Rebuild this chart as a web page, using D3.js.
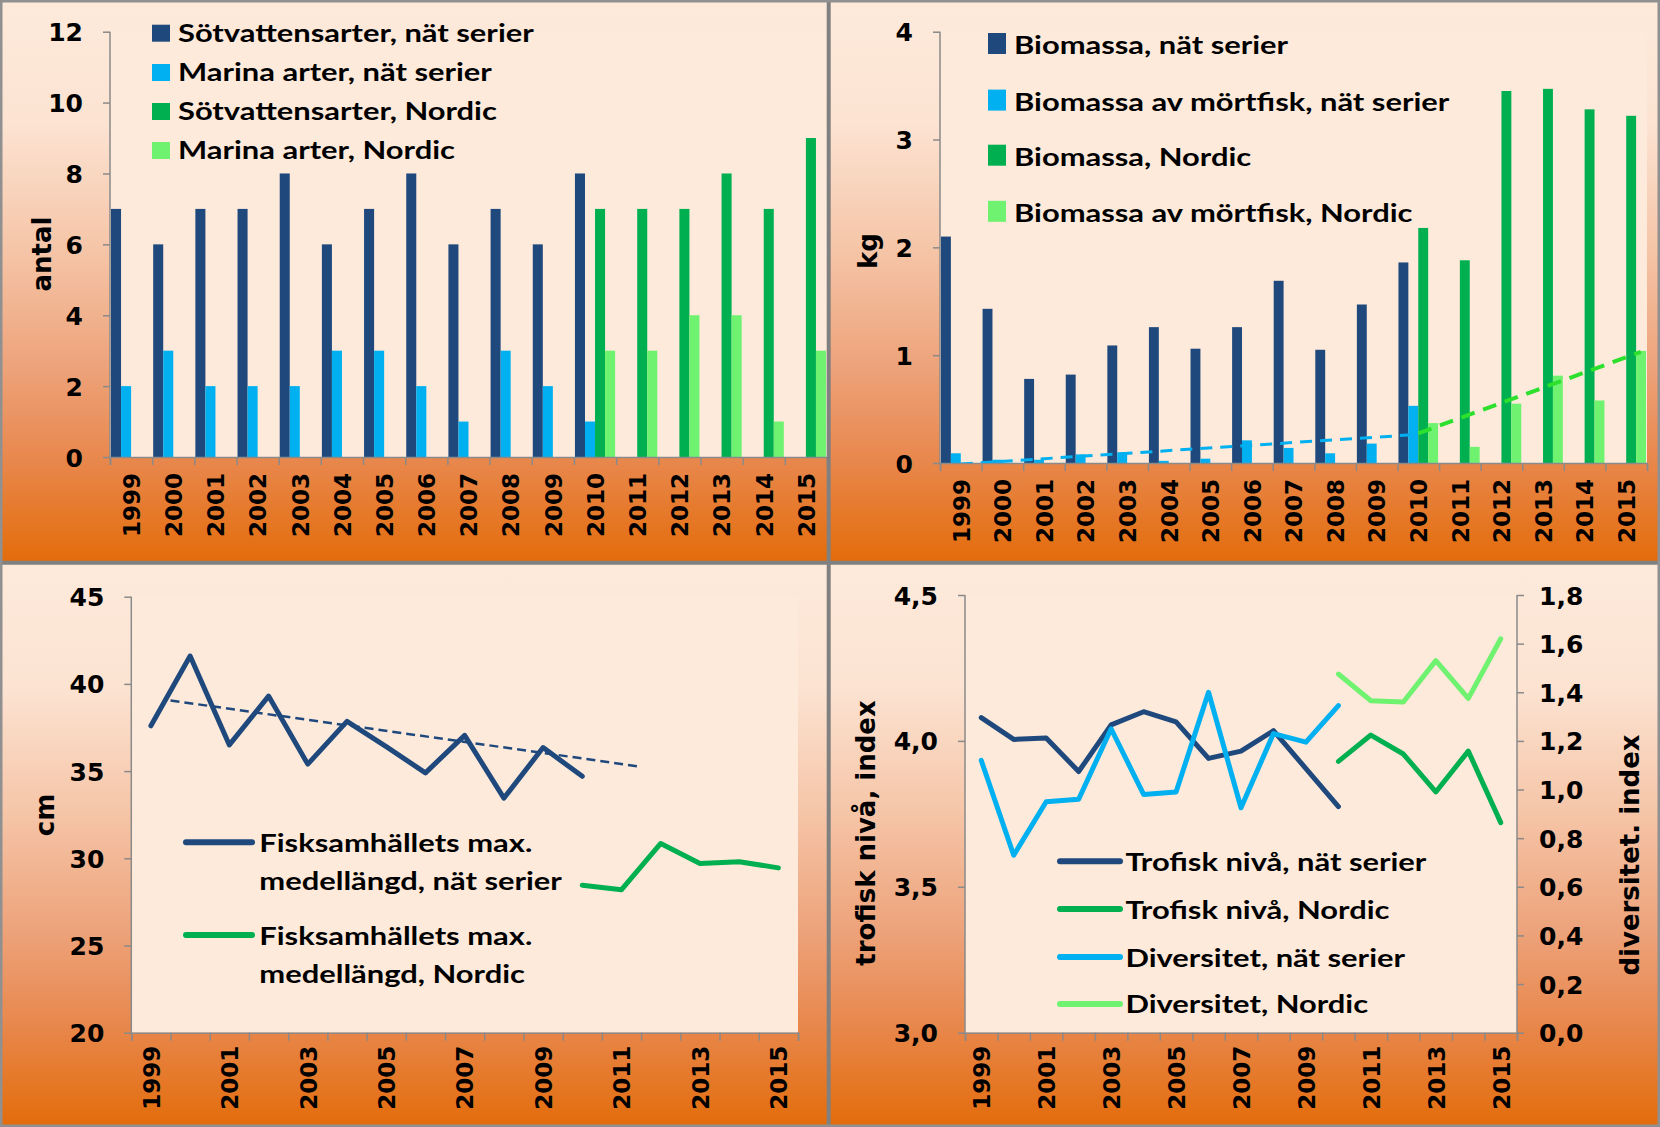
<!DOCTYPE html>
<html><head><meta charset="utf-8">
<script src="https://cdn.jsdelivr.net/npm/d3@7"></script>
<style>body{margin:0;background:#fff}</style>
</head><body><svg id="c" width="1660" height="1127"></svg>
<script>
// ---------------- DATA ----------------
const years = [1999,2000,2001,2002,2003,2004,2005,2006,2007,2008,2009,2010,2011,2012,2013,2014,2015];
const oddYears = [1999,2001,2003,2005,2007,2009,2011,2013,2015];

// Panel 1: antal arter
const sotvattenNat    = [7,6,7,7,8,6,7,8,6,7,6,8,null,null,null,null,null];
const marinaNat       = [2,3,2,2,2,3,3,2,1,3,2,1,null,null,null,null,null];
const sotvattenNordic = [null,null,null,null,null,null,null,null,null,null,null,7,7,7,8,7,9];
const marinaNordic    = [null,null,null,null,null,null,null,null,null,null,null,3,3,4,4,1,3];
const p1Names = ["Sötvattensarter, nät serier","Marina arter, nät serier","Sötvattensarter, Nordic","Marina arter, Nordic"];
const p1Ticks = [0,2,4,6,8,10,12];

// Panel 2: biomassa (kg)
const biomassaNat    = [2.10,1.43,0.78,0.82,1.09,1.26,1.06,1.26,1.69,1.05,1.47,1.86,null,null,null,null,null];
const mortfiskNat    = [0.09,0.03,0.03,0.08,0.10,0.02,0.04,0.21,0.14,0.09,0.18,0.53,null,null,null,null,null];
const biomassaNordic = [null,null,null,null,null,null,null,null,null,null,null,2.18,1.88,3.45,3.47,3.28,3.22];
const mortfiskNordic = [null,null,null,null,null,null,null,null,null,null,null,0.37,0.15,0.55,0.81,0.58,1.04];
const mortfiskNatTrend    = [[1999,-0.01],[2010,0.265]];
const mortfiskNordicTrend = [[2010,0.275],[2015.35,1.03]];
const p2Names = ["Biomassa, nät serier","Biomassa av mörtfisk, nät serier","Biomassa, Nordic","Biomassa av mörtfisk, Nordic"];
const p2Ticks = [0,1,2,3,4];

// Panel 3: max medellängd (cm)
const langdNat    = [37.6,41.6,36.5,39.3,35.4,37.85,36.4,34.9,37.05,33.45,36.35,34.7,null,null,null,null,null];
const langdNordic = [null,null,null,null,null,null,null,null,null,null,null,28.45,28.2,30.85,29.7,29.8,29.45];
const langdNatTrend = [[1999.5,39.05],[2011.5,35.25]];
const p3Names = [["Fisksamhällets max.","medellängd, nät serier"],["Fisksamhällets max.","medellängd, Nordic"]];
const p3Ticks = [20,25,30,35,40,45];

// Panel 4: trofisk nivå & diversitet
const trofiskNat      = [4.08,4.005,4.01,3.895,4.055,4.10,4.065,3.94,3.965,4.035,3.905,3.775,null,null,null,null,null];
const trofiskNordic   = [null,null,null,null,null,null,null,null,null,null,null,3.93,4.02,3.955,3.825,3.965,3.72];
const diversitetNat   = [1.12,0.73,0.95,0.96,1.25,0.98,0.99,1.40,0.925,1.23,1.195,1.345,null,null,null,null,null];
const diversitetNordic= [null,null,null,null,null,null,null,null,null,null,null,1.475,1.365,1.36,1.53,1.375,1.62];
const p4Names = ["Trofisk nivå, nät serier","Trofisk nivå, Nordic","Diversitet, nät serier","Diversitet, Nordic"];
const p4LeftTicks = [3.0,3.5,4.0,4.5];
const p4RightTicks = [0,0.2,0.4,0.6,0.8,1.0,1.2,1.4,1.6,1.8];

// ---------------- STYLE ----------------
const NAVY="#1f497d", LBLUE="#00b0f0", GREEN="#00b050", LGREEN="#6ff26f";
const CREAM="#fdeadb", AXIS="#8a8a8a";
const WIDE = "'DejaVu Sans', Verdana, sans-serif";
const NARROW = "Lato, 'Open Sans', sans-serif";
const LEG_SIZE = 24;

const svg = d3.select("#c");
function measure(str,family,size){
  const t=svg.append("text").attr("font-family",family).attr("font-size",size).attr("font-weight","bold").text(str);
  const w=t.node().getComputedTextLength(); t.remove(); return w;
}
const SX = 356/measure("Sötvattensarter, nät serier",NARROW,LEG_SIZE);

const defs = svg.append("defs");
const grad = defs.append("linearGradient").attr("id","bg").attr("x1",0).attr("y1",0).attr("x2",0).attr("y2",1);
[[0,"#fdeadb"],[0.22,"#fce3d2"],[0.45,"#f5c4a6"],[0.65,"#eda37b"],[0.82,"#e8874c"],[1,"#e36c0a"]]
  .forEach(([o,c])=>grad.append("stop").attr("offset",o).attr("stop-color",c));

function text(g, str, x, y, o={}){
  let tr=`translate(${x},${y})`;
  if (o.rotate) tr+=` rotate(${o.rotate})`;
  const sx = o.sx===undefined ? 1 : o.sx;
  if (sx!==1) tr+=` scale(${sx},1)`;
  return g.append("text").attr("transform",tr)
    .attr("text-anchor",o.anchor||"start")
    .attr("font-family",o.family||NARROW).attr("font-size",o.size||LEG_SIZE)
    .attr("font-weight","bold").attr("fill","#000")
    .attr("dy",o.dy||null).text(str);
}

// panel backgrounds
const panels = [[0,0,829,563],[829,0,831,563],[0,563,829,564],[829,563,831,564]];
panels.forEach(([x,y,w,h])=>svg.append("rect").attr("x",x).attr("y",y).attr("width",w).attr("height",h).attr("fill","url(#bg)"));

function styleAxis(g){
  g.select(".domain").attr("stroke",AXIS).attr("stroke-width",1.5);
  g.selectAll(".tick line").attr("stroke",AXIS).attr("stroke-width",1.5);
}

function yAxis(g, y, x0, ticks, fmt, side="left"){
  const ax = (side==="left"?d3.axisLeft(y):d3.axisRight(y)).tickValues(ticks).tickSize(7).tickPadding(side==="left"?20:15).tickFormat(fmt);
  const a = g.append("g").attr("transform",`translate(${x0},0)`).call(ax);
  a.select(".domain").attr("d", `M0,${y.range()[0]}V${y.range()[1]}`);
  styleAxis(a);
  a.selectAll(".tick text").attr("font-family",WIDE).attr("font-size",25).attr("font-weight","bold").attr("fill","#000").attr("dy","0.36em");
  return a;
}

function xAxis(g, xl, yb, labelYears, labelGap){
  const bounds = d3.range(xl.domain()[0], xl.domain()[1]+0.001, 1);
  const a = g.append("g").attr("transform",`translate(0,${yb})`)
    .call(d3.axisBottom(xl).tickValues(bounds).tickSize(8).tickFormat(""));
  styleAxis(a);
  const b = g.append("g").attr("transform",`translate(0,${yb})`)
    .call(d3.axisBottom(xl).tickValues(labelYears).tickSize(0).tickFormat(d3.format("d")));
  b.select(".domain").remove();
  b.selectAll(".tick text").attr("font-family",WIDE).attr("font-size",23).attr("font-weight","bold").attr("fill","#000")
    .attr("x",-labelGap).attr("y",0).attr("dy","0.36em").attr("text-anchor","end").attr("transform","rotate(-90)");
}

// ---------------- BAR PANELS ----------------
function barPanel(cfg){
  const g = svg.append("g");
  const xl = d3.scaleLinear().domain([1998.5,2015.5]).range([cfg.x0,cfg.x1]);
  const xb = d3.scaleBand().domain(years).range([cfg.x0,cfg.x1]);
  const xs = d3.scaleBand().domain(d3.range(4)).range([0,xb.bandwidth()]).paddingOuter(0.1).paddingInner(0);
  const y = d3.scaleLinear().domain(cfg.domain).range([cfg.yb,cfg.yt]);
  g.append("rect").attr("x",cfg.x0).attr("y",cfg.yt).attr("width",cfg.x1-cfg.x0).attr("height",cfg.yb-cfg.yt).attr("fill",CREAM);
  cfg.series.forEach((vals,k)=>{
    g.append("g").selectAll("rect").data(years.map((yr,i)=>({yr,v:vals[i]})).filter(d=>d.v!=null))
      .join("rect").attr("x",d=>xb(d.yr)+xs(k)).attr("width",xs.bandwidth())
      .attr("y",d=>y(d.v)).attr("height",d=>y(0)-y(d.v)).attr("fill",cfg.colors[k]);
  });
  yAxis(g,y,cfg.x0,cfg.ticks,d3.format("d"));
  xAxis(g,xl,cfg.yb,years,16);
  const cid="clip"+cfg.id;
  defs.append("clipPath").attr("id",cid).append("rect").attr("x",cfg.x0).attr("y",cfg.yt-40).attr("width",cfg.x1-cfg.x0).attr("height",cfg.yb-cfg.yt+40);
  (cfg.trends||[]).forEach(t=>{
    g.append("path").attr("clip-path",`url(#${cid})`).attr("d",d3.line().x(d=>xl(d[0])).y(d=>y(d[1]))(t.data))
      .attr("fill","none").attr("stroke",t.color).attr("stroke-width",t.w).attr("stroke-dasharray",t.dash);
  });
  // legend
  cfg.names.forEach((n,k)=>{
    const by = cfg.legY[k];
    g.append("rect").attr("x",cfg.legX).attr("y",by-cfg.sqH).attr("width",18).attr("height",cfg.sqH).attr("fill",cfg.colors[k]);
    text(g,n,cfg.legX+26,by,{sx:SX});
  });
  text(g,cfg.title,cfg.titleX,cfg.titleY,{rotate:-90,anchor:"middle",family:WIDE,size:26,dy:"0.36em"});
}

barPanel({id:1,x0:110,x1:827,yt:31.7,yb:457,domain:[0,12],ticks:p1Ticks,
  series:[sotvattenNat,marinaNat,sotvattenNordic,marinaNordic],colors:[NAVY,LBLUE,GREEN,LGREEN],
  names:p1Names,legX:152,legY:[41.7,81,120,159],sqH:17,title:"antal",titleX:42,titleY:254});

barPanel({id:2,x0:940,x1:1647,yt:31.7,yb:463,domain:[0,4],ticks:p2Ticks,
  series:[biomassaNat,mortfiskNat,biomassaNordic,mortfiskNordic],colors:[NAVY,LBLUE,GREEN,LGREEN],
  trends:[{data:mortfiskNatTrend,color:LBLUE,w:3,dash:"12 8"},{data:mortfiskNordicTrend,color:"#2ee02e",w:4,dash:"14 9"}],
  names:p2Names,legX:988,legY:[54,110.6,165.7,221.8],sqH:21,title:"kg",titleX:868,titleY:251});

// ---------------- LINE PANELS ----------------
function drawLine(g,xl,y,vals,color,w){
  g.append("path").datum(years.map((yr,i)=>({yr,v:vals[i]})))
    .attr("d",d3.line().defined(d=>d.v!=null).x(d=>xl(d.yr)).y(d=>y(d.v)))
    .attr("fill","none").attr("stroke",color).attr("stroke-width",w).attr("stroke-linejoin","round").attr("stroke-linecap","round");
}

// Panel 3
(function(){
  const x0=131.3,x1=798,yt=596.7,yb=1032.7;
  const g=svg.append("g");
  const xl=d3.scaleLinear().domain([1998.5,2015.5]).range([x0,x1]);
  const y=d3.scaleLinear().domain([20,45]).range([yb,yt]);
  g.append("rect").attr("x",x0).attr("y",yt).attr("width",x1-x0).attr("height",yb-yt).attr("fill",CREAM);
  yAxis(g,y,x0,p3Ticks,d3.format("d"));
  xAxis(g,xl,yb,oddYears,13);
  g.append("path").attr("d",d3.line().x(d=>xl(d[0])).y(d=>y(d[1]))(langdNatTrend))
    .attr("fill","none").attr("stroke",NAVY).attr("stroke-width",2.5).attr("stroke-dasharray","9 5");
  drawLine(g,xl,y,langdNat,NAVY,5);
  drawLine(g,xl,y,langdNordic,GREEN,5);
  const legLines=[842.3,935], colors=[NAVY,GREEN];
  p3Names.forEach((n,k)=>{
    const ly=legLines[k];
    g.append("line").attr("x1",186).attr("x2",252).attr("y1",ly).attr("y2",ly).attr("stroke",colors[k]).attr("stroke-width",6).attr("stroke-linecap","round");
    text(g,n[0],259.3,ly+9.5,{sx:SX});
    text(g,n[1],259.3,ly+47.5,{sx:SX});
  });
  text(g,"cm",44.5,815,{rotate:-90,anchor:"middle",family:WIDE,size:26,dy:"0.36em"});
})();

// Panel 4
(function(){
  const x0=965,x1=1517,yt=595,yb=1032.7;
  const g=svg.append("g");
  const xl=d3.scaleLinear().domain([1998.5,2015.5]).range([x0,x1]);
  const yL=d3.scaleLinear().domain([3.0,4.5]).range([yb,yt]);
  const yR=d3.scaleLinear().domain([0,1.8]).range([yb,yt]);
  const comma = f => v => d3.format(f)(v).replace(".",",");
  g.append("rect").attr("x",x0).attr("y",yt).attr("width",x1-x0).attr("height",yb-yt).attr("fill",CREAM);
  yAxis(g,yL,x0,p4LeftTicks,comma(".1f"));
  yAxis(g,yR,x1,p4RightTicks,comma(".1f"),"right");
  xAxis(g,xl,yb,oddYears,13);
  drawLine(g,xl,yL,trofiskNat,NAVY,5);
  drawLine(g,xl,yL,trofiskNordic,GREEN,5);
  drawLine(g,xl,yR,diversitetNat,LBLUE,5);
  drawLine(g,xl,yR,diversitetNordic,LGREEN,5);
  const legY=[861.2,909.1,957.1,1003.9], colors=[NAVY,GREEN,LBLUE,LGREEN];
  p4Names.forEach((n,k)=>{
    g.append("line").attr("x1",1060).attr("x2",1120).attr("y1",legY[k]).attr("y2",legY[k]).attr("stroke",colors[k]).attr("stroke-width",6).attr("stroke-linecap","round");
    text(g,n,1125.4,legY[k]+9.5,{sx:SX});
  });
  text(g,"trofisk nivå, index",866,833,{rotate:-90,anchor:"middle",family:WIDE,size:26,dy:"0.36em"});
  text(g,"diversitet. index",1630,855,{rotate:-90,anchor:"middle",family:WIDE,size:26,dy:"0.36em"});
})();

// frame & dividers
svg.append("line").attr("x1",828.7).attr("x2",828.7).attr("y1",0).attr("y2",1127).attr("stroke","#808080").attr("stroke-width",4);
svg.append("line").attr("x1",0).attr("x2",1660).attr("y1",562.8).attr("y2",562.8).attr("stroke","#808080").attr("stroke-width",4);
svg.append("rect").attr("x",1).attr("y",1).attr("width",1658).attr("height",1125).attr("fill","none").attr("stroke","#909090").attr("stroke-width",3);
</script></body></html>
